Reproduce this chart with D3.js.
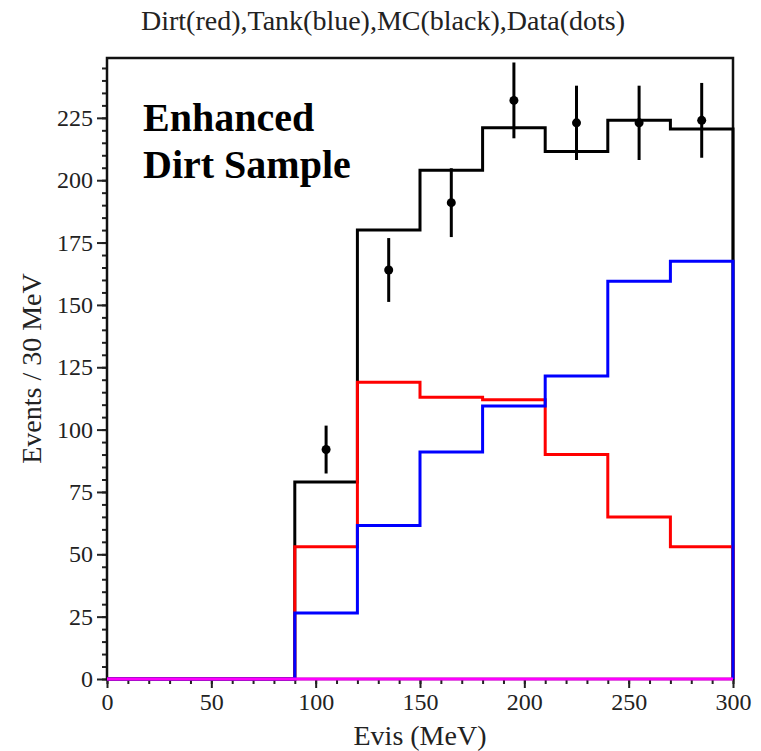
<!DOCTYPE html>
<html>
<head>
<meta charset="utf-8">
<script src="https://cdn.jsdelivr.net/npm/d3@7"></script>
<style>
  body { margin: 0; background: #fff; }
  text { font-family: "Liberation Serif", "Times New Roman", serif; fill: #222; }
</style>
</head>
<body>
<div id="chart"></div>
<script>
// bin lower edges (MeV), 30 MeV wide
var binLo = [0, 30, 60, 90, 120, 150, 180, 210, 240, 270];
var mc    = [0, 0, 0, 79, 180, 204, 221, 211.5, 224, 220.5];
var dirt  = [0, 0, 0, 53, 119, 113, 112, 90, 65, 53];
var tank  = [0, 0, 0, 26.5, 61.5, 91, 109.5, 121.5, 159.5, 167.5];
var other = [0, 0, 0, 0, 0, 0, 0, 0, 0, 0];

// data points (bin centre, value, error)
var dataX   = [105, 135, 165, 195, 225, 255, 285];
var dataY   = [92, 164, 191, 232, 223, 223, 224];
var dataErr = [9.6, 12.8, 13.8, 15.2, 14.9, 14.9, 15.0];

var yMajor = [0, 25, 50, 75, 100, 125, 150, 175, 200, 225];
var xMajor = [0, 50, 100, 150, 200, 250, 300];

var W = 761, H = 751;
var pL = 107, pR = 733, pT = 58, pB = 679;

var x = d3.scaleLinear().domain([0, 300]).range([pL, pR]);
var y = d3.scaleLinear().domain([0, 249]).range([pB, pT]);

var svg = d3.select("#chart").append("svg")
  .attr("width", W)
  .attr("height", H);

// title
svg.append("text")
  .attr("x", 141).attr("y", 30)
  .attr("font-size", 28)
  .text("Dirt(red),Tank(blue),MC(black),Data(dots)");

// minor ticks
var yMinor = d3.range(0, 250, 5);
var xMinor = d3.range(0, 301, 10);

svg.append("g")
  .attr("transform", "translate(" + pL + ",0)")
  .call(d3.axisLeft(y).tickValues(yMinor).tickSize(5).tickFormat(""))
  .call(function(g) { g.select(".domain").remove(); })
  .selectAll("line").attr("stroke", "#222").attr("stroke-width", 2);

svg.append("g")
  .attr("transform", "translate(0," + pB + ")")
  .call(d3.axisBottom(x).tickValues(xMinor).tickSize(5).tickFormat(""))
  .call(function(g) { g.select(".domain").remove(); })
  .selectAll("line").attr("stroke", "#222").attr("stroke-width", 2);

// major ticks + labels
var ya = svg.append("g")
  .attr("transform", "translate(" + pL + ",0)")
  .call(d3.axisLeft(y).tickValues(yMajor).tickSize(10).tickPadding(4))
  .call(function(g) { g.select(".domain").remove(); });
ya.selectAll("line").attr("stroke", "#222").attr("stroke-width", 2);
ya.selectAll("text")
  .attr("font-size", 24)
  .attr("font-family", "Liberation Serif, serif")
  .attr("fill", "#222");

var xa = svg.append("g")
  .attr("transform", "translate(0," + pB + ")")
  .call(d3.axisBottom(x).tickValues(xMajor).tickSize(9).tickPadding(5))
  .call(function(g) { g.select(".domain").remove(); });
xa.selectAll("line").attr("stroke", "#222").attr("stroke-width", 2);
xa.selectAll("text")
  .attr("font-size", 24)
  .attr("font-family", "Liberation Serif, serif")
  .attr("fill", "#222");

// frame
svg.append("rect")
  .attr("x", pL).attr("y", pT)
  .attr("width", pR - pL).attr("height", pB - pT)
  .attr("fill", "none")
  .attr("stroke", "#111")
  .attr("stroke-width", 2.5);

// axis titles
svg.append("text")
  .attr("x", (pL + pR) / 2).attr("y", 745)
  .attr("text-anchor", "middle")
  .attr("font-size", 28)
  .text("Evis (MeV)");

svg.append("text")
  .attr("transform", "translate(41," + ((pT + pB) / 2) + ") rotate(-90)")
  .attr("text-anchor", "middle")
  .attr("font-size", 28)
  .text("Events / 30 MeV");

// label inside plot
svg.append("text")
  .attr("x", 143).attr("y", 131)
  .attr("font-size", 40).attr("font-weight", "bold")
  .style("fill", "#000")
  .text("Enhanced");
svg.append("text")
  .attr("x", 143).attr("y", 178)
  .attr("font-size", 40).attr("font-weight", "bold")
  .style("fill", "#000")
  .text("Dirt Sample");

// step histograms
var step = d3.line()
  .x(function(d) { return x(d[0]); })
  .y(function(d) { return y(d[1]); })
  .curve(d3.curveStepAfter);

function histPoints(vals) {
  var pts = binLo.map(function(lo, i) { return [lo, vals[i]]; });
  pts.push([300, vals[vals.length - 1]]);
  pts.push([300, 0]);
  return pts;
}

var series = [
  { vals: mc,    color: "#000000" },
  { vals: dirt,  color: "#ff0000" },
  { vals: tank,  color: "#0000ff" },
  { vals: other, color: "#ff00ff" }
];

svg.selectAll("path.hist")
  .data(series)
  .enter()
  .append("path")
  .attr("class", "hist")
  .attr("d", function(d) { return step(histPoints(d.vals)); })
  .attr("fill", "none")
  .attr("stroke", function(d) { return d.color; })
  .attr("stroke-width", 3);

// data points with error bars
var pts = svg.selectAll("g.pt")
  .data(dataX)
  .enter()
  .append("g")
  .attr("class", "pt");

pts.append("line")
  .attr("x1", function(d) { return x(d); })
  .attr("x2", function(d) { return x(d); })
  .attr("y1", function(d, i) { return y(dataY[i] - dataErr[i]); })
  .attr("y2", function(d, i) { return y(dataY[i] + dataErr[i]); })
  .attr("stroke", "#000")
  .attr("stroke-width", 3);

pts.append("circle")
  .attr("cx", function(d) { return x(d); })
  .attr("cy", function(d, i) { return y(dataY[i]); })
  .attr("r", 4.5)
  .attr("fill", "#000");
</script>
</body>
</html>
